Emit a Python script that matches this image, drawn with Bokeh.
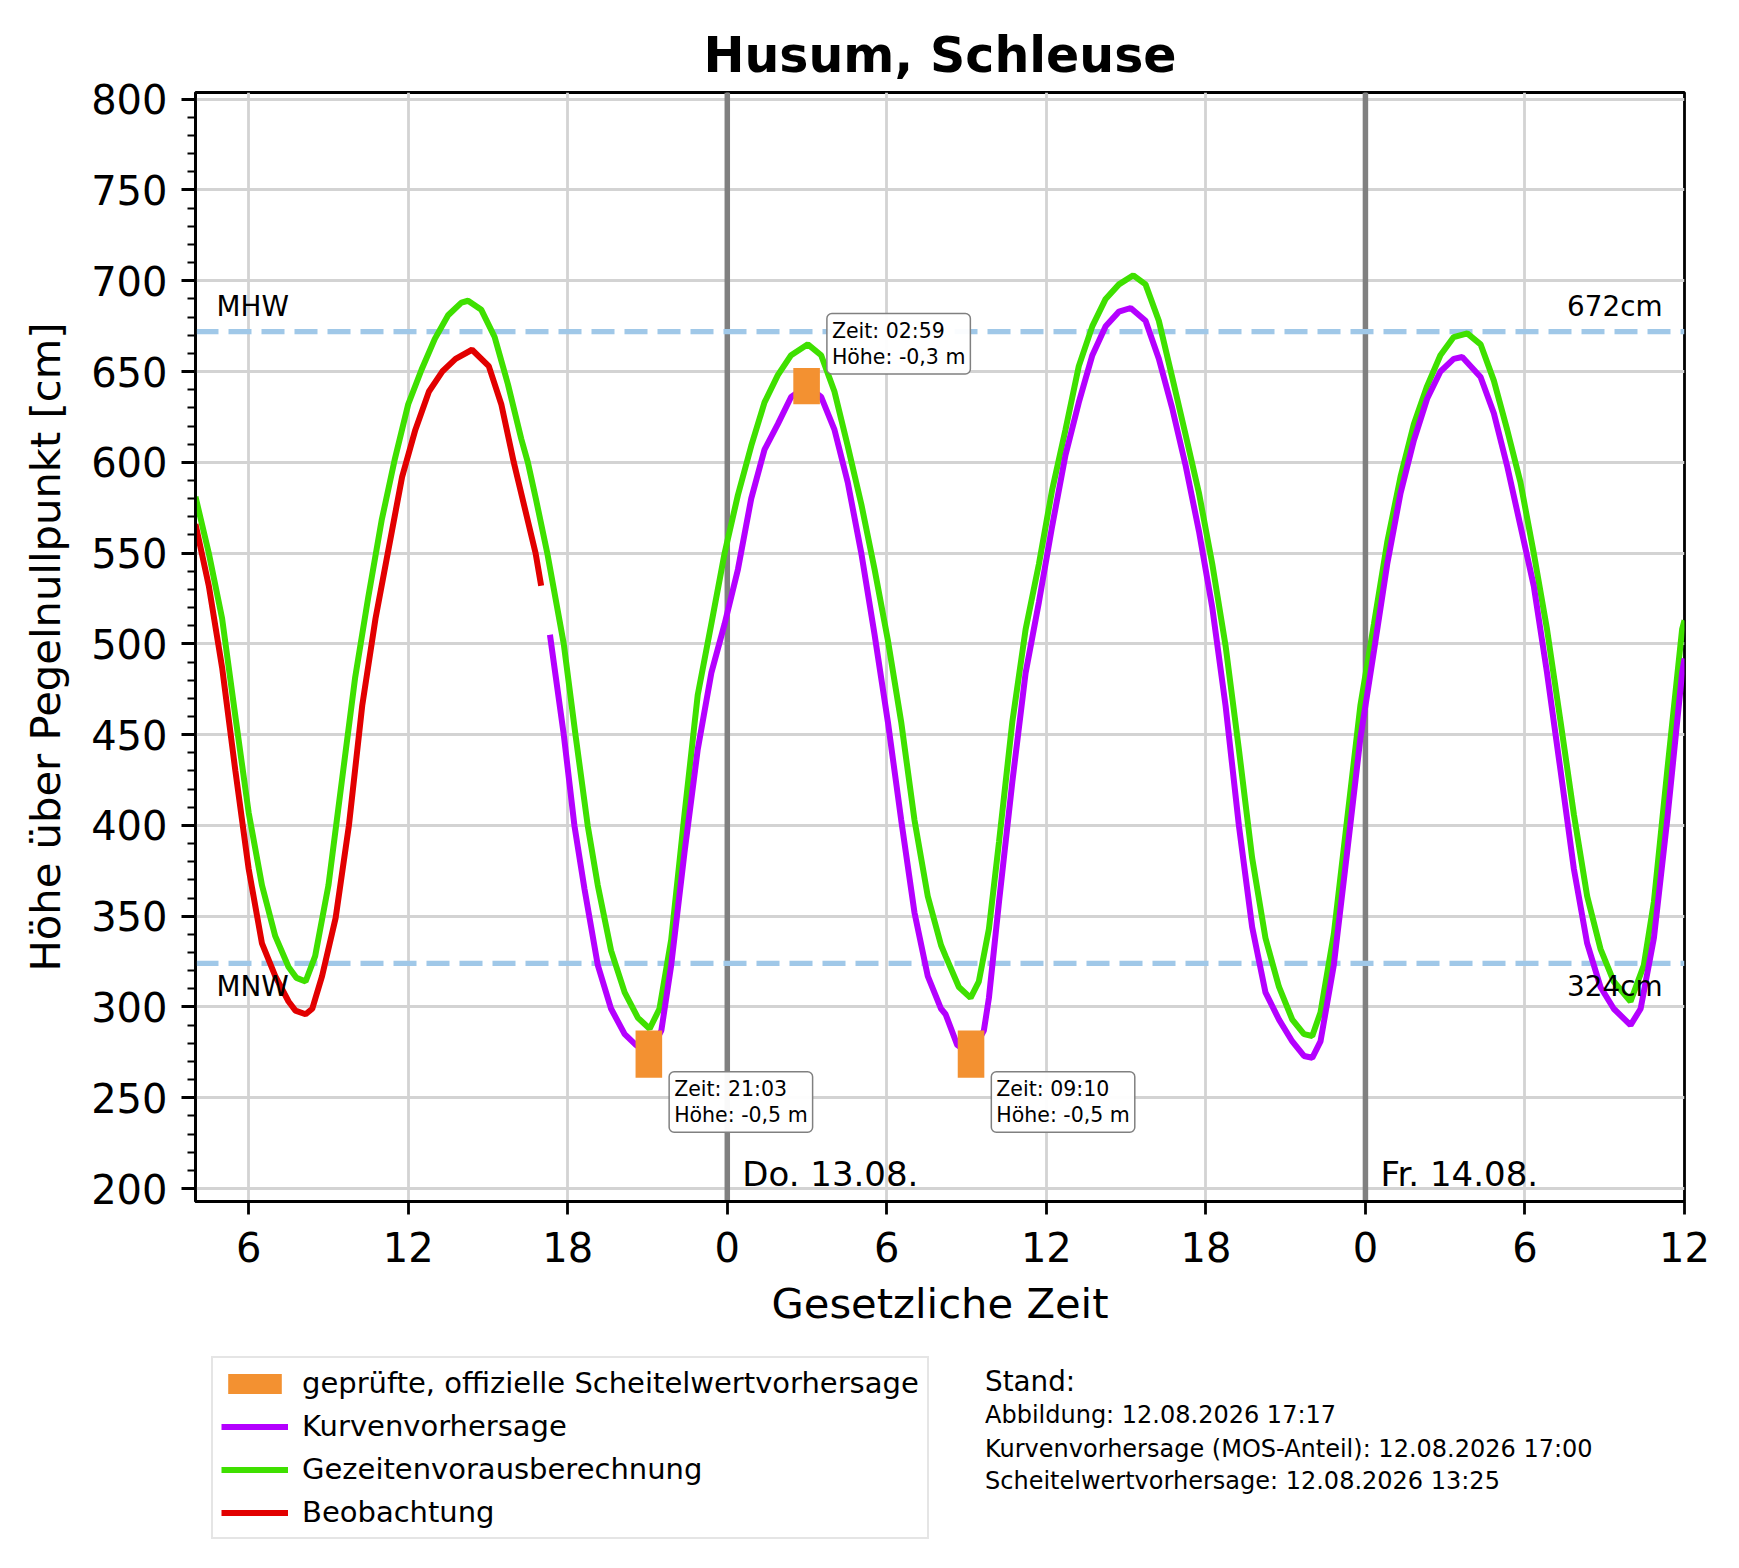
from bokeh.plotting import figure
from bokeh.layouts import column
from bokeh.models import Range1d, FixedTicker, Span, Label, Legend, LegendItem
from bokeh.embed import file_html
from bokeh.resources import INLINE

FONT = "DejaVu Sans"

# ---------------- data (hours since 12.08. 00:00) ----------------
gez_t = [4.0, 4.5, 5.0, 5.5, 6.0, 6.5, 7.0, 7.5, 7.8, 8.14, 8.5, 9.0, 9.5, 10.0, 10.5, 11.0, 11.5,
         12.0, 12.5, 13.0, 13.5, 14.0, 14.25, 14.75, 15.25, 15.75, 16.25, 16.5, 16.8, 17.23, 17.85,
         18.29, 18.75, 19.13, 19.63, 20.14, 20.64, 21.08, 21.45, 21.89, 22.39, 22.89, 23.4, 23.9,
         24.4, 24.9, 25.4, 25.9, 26.4, 27.03, 27.53, 28.03, 28.53, 29.04, 29.54, 30.04, 30.54,
         31.04, 31.54, 32.04, 32.21, 32.71, 33.15, 33.46, 33.84, 34.22, 34.72, 35.22, 35.72, 36.22,
         36.72, 37.22, 37.73, 38.23, 38.73, 39.27, 39.73, 40.23, 40.73, 41.24, 41.74, 42.24, 42.74,
         43.24, 43.74, 44.24, 44.75, 45.25, 45.69, 46.0, 46.31, 46.81, 47.31, 47.81, 48.32, 48.82,
         49.32, 49.82, 50.32, 50.82, 51.32, 51.83, 52.33, 52.83, 53.33, 53.83, 54.33, 54.83, 55.34,
         55.84, 56.34, 56.84, 57.34, 57.97, 58.47, 58.85, 59.35, 59.91, 60.0]
gez_h = [581, 550, 514, 460, 407, 367, 339, 322, 316, 314, 328, 367, 424, 481, 526, 568, 602,
         632, 651, 668, 681, 688, 689, 684, 669, 643, 613, 600, 580, 550, 500,
         450, 400, 367, 331, 308, 294, 288, 299, 337, 406, 472, 511, 550,
         582, 609, 633, 648, 659, 665, 659, 639, 609, 577, 541, 502, 457,
         403, 361, 334, 328, 311, 305, 314, 343, 391, 457, 508, 544, 585,
         618, 653, 675, 690, 698, 703, 698, 678, 647, 615, 583, 544, 499,
         442, 382, 338, 311, 293, 285, 284, 297, 340, 403, 466, 511, 556,
         592, 621, 642, 659, 669, 671, 665, 645, 618, 589, 550, 508, 457,
         406, 361, 332, 314, 303, 323, 358, 430, 508, 513]

kv_t = [17.33, 17.85, 18.25, 18.63, 19.13, 19.63, 20.14, 20.57, 21.05, 21.52, 21.89, 22.39, 22.89,
        23.4, 23.9, 24.4, 24.9, 25.4, 25.9, 26.4, 27.0, 27.53, 28.03, 28.53, 29.04, 29.54, 30.04,
        30.54, 31.04, 31.54, 32.04, 32.21, 32.65, 33.17, 33.65, 33.84, 34.22, 34.72, 35.22, 35.72,
        36.22, 36.72, 37.22, 37.73, 38.23, 38.73, 39.17, 39.73, 40.23, 40.73, 41.24, 41.74, 42.24,
        42.74, 43.24, 43.74, 44.24, 44.75, 45.25, 45.69, 46.0, 46.31, 46.81, 47.31, 47.81, 48.32,
        48.82, 49.32, 49.82, 50.32, 50.82, 51.32, 51.64, 52.33, 52.83, 53.33, 53.83, 54.33, 54.83,
        55.34, 55.84, 56.34, 56.84, 57.34, 57.97, 58.35, 58.85, 59.35, 59.91, 60.0]
kv_h = [505, 450, 400, 365, 323, 299, 285, 279, 274, 287, 323, 385, 442,
        484, 511, 541, 580, 607, 621, 636, 642, 636, 618, 589, 550, 505, 457,
        403, 352, 317, 299, 296, 279, 274, 287, 305, 358, 424, 484, 523,
        565, 604, 633, 659, 675, 683, 685, 678, 657, 630, 598, 562, 520,
        466, 400, 344, 308, 293, 281, 273, 272, 281, 323, 385, 448, 496,
        544, 583, 612, 635, 650, 657, 658, 647, 627, 598, 565, 532, 484,
        430, 376, 335, 311, 299, 290, 299, 338, 403, 484, 492]

beo_t = [4.0, 4.5, 5.0, 5.5, 6.0, 6.5, 7.0, 7.5, 7.76, 8.14, 8.39, 8.76, 9.27, 9.77, 10.27, 10.77,
         11.27, 11.77, 12.27, 12.78, 13.28, 13.78, 14.4, 15.03, 15.5, 15.97, 16.79, 17.0]
beo_h = [566, 532, 487, 430, 376, 335, 317, 303, 298, 296, 299, 317, 349, 400, 466, 514,
         553, 592, 618, 639, 650, 657, 662, 653, 632, 600, 550, 532]

crest_t = [21.05, 26.983, 33.167]
crest_lo = [261, 632, 261]
crest_hi = [287, 652, 287]
crest_kind = ["low", "high", "low"]
crest_zeit = ["21:03", "02:59", "09:10"]
crest_hoehe = ["-0,5 m", "-0,3 m", "-0,5 m"]

mhw = 672
mnw = 324
day_lines = [24, 48]
day_names = ["Do. 13.08.", "Fr. 14.08."]

x_ticks = [6, 12, 18, 24, 30, 36, 42, 48, 54, 60]
x_tick_labels = ["6", "12", "18", "0", "6", "12", "18", "0", "6", "12"]
y_ticks = list(range(200, 801, 50))
y_minor = list(range(200, 801, 10))

legend_labels = ["geprüfte, offizielle Scheitelwertvorhersage", "Kurvenvorhersage",
                 "Gezeitenvorausberechnung", "Beobachtung"]
stand_title = "Stand:"
stand_lines = ["Abbildung: 12.08.2026 17:17",
               "Kurvenvorhersage (MOS-Anteil): 12.08.2026 17:00",
               "Scheitelwertvorhersage: 12.08.2026 13:25"]

C_CREST = "#f39131"
C_KV = "#b400ff"
C_GEZ = "#3fe000"
C_BEO = "#e20000"
LW = 6
BASE_FIX = 11   # lift for alphabetic-baseline texts

# layout geometry (page pixels)
LEFT, FRAME_W, RIGHT = 195, 1489, 47
TOP, FRAME_H, BOTTOM = 92, 1109, 150
STRIP_H = 200

# ---------------- main figure ----------------
p = figure(frame_width=FRAME_W, frame_height=FRAME_H,
           x_range=Range1d(4, 60), y_range=Range1d(192.84, 803.7),
           output_backend="svg", toolbar_location=None,
           min_border_left=LEFT, min_border_right=RIGHT, min_border_top=TOP, min_border_bottom=BOTTOM,
           background_fill_color="white", border_fill_color="white")

p.title.text = "Husum, Schleuse"
p.title.text_font = FONT
p.title.text_font_size = "49px"
p.title.text_font_style = "bold"
p.title.align = "center"
p.title.text_color = "black"
p.title.standoff = 17

p.outline_line_color = "black"
p.outline_line_width = 2.8

for ax in (p.xaxis[0], p.yaxis[0]):
    ax.axis_line_width = 2.8
    ax.major_tick_line_width = 2.8
    ax.minor_tick_line_width = 2.2
    ax.major_tick_in = 0
    ax.minor_tick_in = 0
    ax.major_label_text_font = FONT
    ax.major_label_text_font_size = "40px"
    ax.major_label_text_color = "black"
    ax.axis_label_text_font = FONT
    ax.axis_label_text_font_size = "41.7px"
    ax.axis_label_text_font_style = "normal"
    ax.axis_label_text_color = "black"

p.xaxis.ticker = FixedTicker(ticks=x_ticks, minor_ticks=[])
p.xaxis.major_label_overrides = {t: l for t, l in zip(x_ticks, x_tick_labels)}
p.xaxis.major_tick_out = 13
p.xaxis.major_label_standoff = 17
p.xaxis.axis_label = "Gesetzliche Zeit"
p.xaxis.axis_label_standoff = 14

p.yaxis.ticker = FixedTicker(ticks=y_ticks, minor_ticks=y_minor)
p.yaxis.major_tick_out = 14
p.yaxis.minor_tick_out = 8
p.yaxis.major_label_standoff = 14
p.yaxis.axis_label = "Höhe über Pegelnullpunkt [cm]"
p.yaxis.axis_label_standoff = 18

p.xgrid.ticker = FixedTicker(ticks=x_ticks)
p.ygrid.ticker = FixedTicker(ticks=y_ticks)
for g in (p.xgrid[0], p.ygrid[0]):
    g.grid_line_color = "#d3d3d3"
    g.grid_line_width = 2.8

for d in day_lines:
    p.add_layout(Span(location=d, dimension="height", line_color="#808080",
                      line_width=5.5, level="underlay"))
for v in (mhw, mnw):
    p.add_layout(Span(location=v, dimension="width", line_color="#a0c8e8",
                      line_width=5.4, line_dash="23 10", level="underlay"))

p.line(gez_t, gez_h, line_color=C_GEZ, line_width=LW)
p.line(kv_t, kv_h, line_color=C_KV, line_width=LW)
p.line(beo_t, beo_h, line_color=C_BEO, line_width=LW)
p.quad(left=[t - 0.5 for t in crest_t], right=[t + 0.5 for t in crest_t],
       bottom=crest_lo, top=crest_hi, fill_color=C_CREST, line_color=None)

for t, lo, hi, kind, zt, hh in zip(crest_t, crest_lo, crest_hi, crest_kind, crest_zeit, crest_hoehe):
    if kind == "high":
        yy, yo, anc = hi, -6, "bottom_left"
    else:
        yy, yo, anc = lo, 6, "top_left"
    p.add_layout(Label(x=t + 0.5, y=yy, x_offset=7, y_offset=yo, anchor=anc,
                       text=f"Zeit: {zt}\nHöhe: {hh}", text_font=FONT, text_font_size="20.5px",
                       text_line_height=1.1,
                       text_color="black", background_fill_color="white", background_fill_alpha=0.95,
                       border_line_color="#808080", border_line_width=1.5, border_radius=5,
                       padding=5))

txt = dict(text_font=FONT, text_font_size="27.8px", text_color="black", text_baseline="alphabetic")
p.add_layout(Label(x=4, y=mhw, x_offset=21, y_offset=14 + BASE_FIX, text="MHW", **txt))
p.add_layout(Label(x=60, y=mhw, x_offset=-22, y_offset=14 + BASE_FIX, text=f"{mhw}cm",
                   text_align="right", **txt))
p.add_layout(Label(x=4, y=mnw, x_offset=21, y_offset=-34.5 + BASE_FIX, text="MNW", **txt))
p.add_layout(Label(x=60, y=mnw, x_offset=-22, y_offset=-34.5 + BASE_FIX, text=f"{mnw}cm",
                   text_align="right", **txt))

for d, name in zip(day_lines, day_names):
    p.add_layout(Label(x=d, y=202.2, x_offset=15, y_offset=BASE_FIX, text=name, text_font=FONT,
                       text_font_size="34px", text_color="black", text_baseline="alphabetic"))

# ---------------- bottom strip: legend + "Stand" block ----------------
# strip coordinates: x = page pixel column, y = pixels above the strip's bottom
p2 = figure(frame_width=FRAME_W, frame_height=STRIP_H,
            x_range=Range1d(LEFT, LEFT + FRAME_W), y_range=Range1d(0, STRIP_H),
            x_axis_location=None, y_axis_location=None,
            min_border_left=LEFT, min_border_right=RIGHT, min_border_top=0, min_border_bottom=0,
            output_backend="svg", toolbar_location=None,
            background_fill_color="white", border_fill_color="white", outline_line_color=None)
p2.xgrid.visible = False
p2.ygrid.visible = False

# legend renderers (same series; their values lie outside this strip's range, so only the legend shows)
lg_crest = p2.quad(left=[t - 0.5 for t in crest_t], right=[t + 0.5 for t in crest_t],
                   bottom=crest_lo, top=crest_hi, fill_color=C_CREST, line_color=None)
lg_kv = p2.line(kv_t, kv_h, line_color=C_KV, line_width=LW)
lg_gez = p2.line(gez_t, gez_h, line_color=C_GEZ, line_width=LW)
lg_beo = p2.line(beo_t, beo_h, line_color=C_BEO, line_width=LW)

legend = Legend(items=[LegendItem(label=lab, renderers=[r]) for lab, r in
                       zip(legend_labels, [lg_crest, lg_kv, lg_gez, lg_beo])],
                location=(211 - LEFT, 12))
legend.label_text_font = FONT
legend.label_text_font_size = "29px"
legend.label_text_color = "black"
legend.glyph_width = 67
legend.glyph_height = 25
legend.label_height = 34
legend.label_standoff = 14
legend.spacing = 9
legend.padding = 8
legend.margin = 0
legend.border_line_color = "#cccccc"
legend.border_line_width = 2.8
legend.background_fill_color = "white"
legend.background_fill_alpha = 1.0
p2.add_layout(legend)

stand_x = 984.5
p2.add_layout(Label(x=stand_x, y=170, text=stand_title, text_font=FONT, text_font_size="27.8px",
                    text_color="black", text_baseline="alphabetic"))
for yy, line in zip([137, 103, 71], stand_lines):
    p2.add_layout(Label(x=stand_x, y=yy, text=line, text_font=FONT, text_font_size="24px",
                        text_color="black", text_baseline="alphabetic"))

layout = column(p, p2, spacing=0)
open("out.html", "w").write(file_html(layout, INLINE, title="Husum, Schleuse"))
